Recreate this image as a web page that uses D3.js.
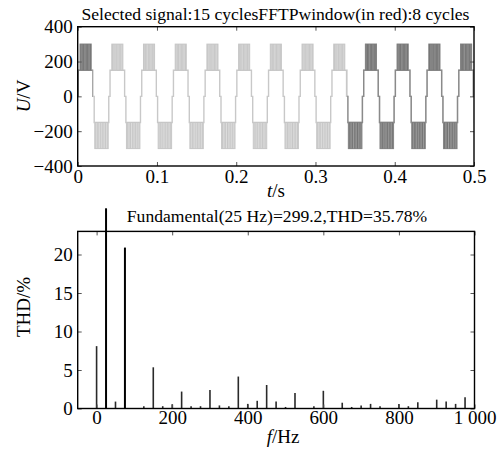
<!DOCTYPE html>
<html>
<head>
<meta charset="utf-8">
<script src="https://cdn.jsdelivr.net/npm/d3@7"></script>
<style>
  body { margin: 0; background: white; }
  svg { display: block; font-family: "Liberation Serif", "Times New Roman", serif; }
</style>
</head>
<body>
<div id="vis"></div>
<script>
// ---- waveform (25 Hz stepped PWM voltage) ----
const cycleStarts = [0, 0.04, 0.08, 0.12, 0.16, 0.2, 0.24, 0.28, 0.32, 0.36, 0.4, 0.44, 0.48];
// one cycle, times relative to cycle start; +-300 means a PWM block between 150 and 300
const stepTimes = [0, 0.0008, 0.003, 0.017, 0.0192, 0.0208, 0.0215, 0.0385, 0.0392, 0.04];
const stepLevels = [0, 150, 300, 150, 0, -150, -300, -150, 0];
// switching edges inside a PWM block (fraction of block width)
const pwmEdges = [0.07, 0.19, 0.3, 0.44, 0.56, 0.68, 0.8, 0.93];
// parts drawn darker (FFT window)
const darkSpans = [[0, 0.019], [0.34, 0.5]];
const timeTicks = [0, 0.1, 0.2, 0.3, 0.4, 0.5];
const voltTicks = [-400, -200, 0, 200, 400];

// ---- spectrum ----
const harmFreq = [0, 25, 50, 75, 125, 150, 175, 200, 225, 250, 275, 300, 325, 350, 375, 400, 425, 450, 475,
  500, 525, 575, 600, 650, 675, 700, 725, 750, 800, 825, 850, 900, 925, 950, 975];
const harmMag = [8.1, 100, 0.9, 20.9, 0.3, 5.35, 0.3, 0.55, 2.2, 0.3, 0.3, 2.4, 0.4, 0.3, 4.15, 0.6, 1.0, 3.05, 0.9,
  0.2, 2.0, 0.3, 2.3, 0.75, 0.2, 0.4, 0.6, 0.3, 0.6, 0.3, 0.8, 1.15, 0.9, 0.6, 1.45];
const freqTicks = [0, 200, 400, 600, 800, 1000];
const freqTickLabels = ['0', '200', '400', '600', '800', '1 000'];
const thdTicks = [0, 5, 10, 15, 20];

const serif = '"Liberation Serif", "Times New Roman", serif';
const W = 498, H = 450;
let svg = d3.select('#vis')
  .append('svg')
  .attr('width', W)
  .attr('height', H)
  .attr('viewBox', [0, 0, W, H].join(' '))
  .style('background-color', 'white');

const defs = svg.append('defs');

// ================= top: waveform =================
let x1 = d3.scaleLinear().domain([0, 0.5]).range([77.7, 474]);
let y1 = d3.scaleLinear().domain([-400, 400]).range([166, 26.7]);

defs.append('clipPath').attr('id', 'clipTop')
  .append('rect')
  .attr('x', x1(0)).attr('y', y1(400))
  .attr('width', x1(0.5) - x1(0)).attr('height', y1(-400) - y1(400));

let darkClip = defs.append('clipPath').attr('id', 'clipDark');
darkClip.selectAll('rect').data(darkSpans).join('rect')
  .attr('x', d => x1(d[0])).attr('y', y1(400))
  .attr('width', d => x1(d[1]) - x1(d[0]))
  .attr('height', y1(-400) - y1(400));

// build line points and PWM blocks
let pts = [], blocks = [];
cycleStarts.forEach(c => {
  stepLevels.forEach((v, i) => {
    let t0 = c + stepTimes[i], t1 = c + stepTimes[i + 1];
    if (Math.abs(v) === 300) {
      let s = Math.sign(v);
      pts.push([t0, s * 150]);
      blocks.push({ t0: t0, t1: t1, lo: s * 150, hi: s * 300 });
    } else {
      pts.push([t0, v]);
    }
  });
});
pts.push([0.52, 0]);

let line = d3.line()
  .x(d => x1(d[0]))
  .y(d => y1(d[1]))
  .curve(d3.curveStepAfter);

function drawWave(g, lineCol, fillCol, edgeCol) {
  g.append('path')
    .attr('d', line(pts))
    .attr('fill', 'none')
    .attr('stroke', lineCol)
    .attr('stroke-width', 1.4);
  let b = g.selectAll('g.blk').data(blocks).join('g').attr('class', 'blk');
  b.append('rect')
    .attr('x', d => x1(d.t0))
    .attr('y', d => Math.min(y1(d.lo), y1(d.hi)))
    .attr('width', d => x1(d.t1) - x1(d.t0))
    .attr('height', d => Math.abs(y1(d.lo) - y1(d.hi)))
    .attr('fill', fillCol)
    .attr('stroke', lineCol)
    .attr('stroke-width', 1);
  b.selectAll('line').data(d => pwmEdges.map(f => ({ t: d.t0 + f * (d.t1 - d.t0), lo: d.lo, hi: d.hi })))
    .join('line')
    .attr('x1', d => x1(d.t)).attr('x2', d => x1(d.t))
    .attr('y1', d => y1(d.lo)).attr('y2', d => y1(d.hi))
    .attr('stroke', edgeCol)
    .attr('stroke-width', 0.9);
}

let waveLight = svg.append('g').attr('clip-path', 'url(#clipTop)');
drawWave(waveLight, '#c8c8c8', '#e0e0e0', '#c4c4c4');
let waveDark = svg.append('g').attr('clip-path', 'url(#clipDark)');
drawWave(waveDark, '#8a8a8a', '#a4a4a4', '#6e6e6e');

// axes (inner ticks)
svg.append('g')
  .attr('transform', `translate(0,${y1(-400)})`)
  .call(d3.axisBottom(x1).tickValues(timeTicks).tickSize(-4).tickPadding(4)
    .tickFormat(d => d === 0 ? '0' : d3.format('.1f')(d)));
svg.append('g')
  .attr('transform', `translate(0,${y1(400)})`)
  .call(d3.axisTop(x1).tickValues(timeTicks).tickSize(-4).tickFormat(''));
svg.append('g')
  .attr('transform', `translate(${x1(0)},0)`)
  .call(d3.axisLeft(y1).tickValues(voltTicks).tickSize(-4).tickPadding(5).tickFormat(d3.format('d')));
svg.append('g')
  .attr('transform', `translate(${x1(0.5)},0)`)
  .call(d3.axisRight(y1).tickValues(voltTicks).tickSize(-4).tickFormat(''));

svg.append('rect')
  .attr('x', x1(0)).attr('y', y1(400))
  .attr('width', x1(0.5) - x1(0)).attr('height', y1(-400) - y1(400))
  .attr('fill', 'none').attr('stroke', '#000').attr('stroke-width', 1.4);

svg.append('text')
  .attr('x', 275.5).attr('y', 20)
  .attr('text-anchor', 'middle')
  .style('font-size', '17.6px')
  .text('Selected signal:15 cyclesFFTPwindow(in red):8 cycles');

let ul = svg.append('text')
  .attr('transform', 'translate(30,96) rotate(-90)')
  .attr('text-anchor', 'middle')
  .style('font-size', '19px');
ul.append('tspan').style('font-style', 'italic').text('U');
ul.append('tspan').text('/V');

let tl = svg.append('text')
  .attr('x', 276).attr('y', 197)
  .attr('text-anchor', 'middle')
  .style('font-size', '19px');
tl.append('tspan').style('font-style', 'italic').text('t');
tl.append('tspan').text('/s');

// ================= bottom: spectrum =================
let x2 = d3.scaleLinear().domain([-50, 1000]).range([77.7, 474.5]);
let y2 = d3.scaleLinear().domain([0, 23]).range([408.5, 231.4]);
const barMax = 26; // fundamental is drawn past the frame

svg.selectAll('line.bar')
  .data(harmFreq.map((f, i) => ({ f: f, v: harmMag[i] })))
  .join('line')
  .attr('class', 'bar')
  .attr('x1', d => x2(d.f)).attr('x2', d => x2(d.f))
  .attr('y1', y2(0))
  .attr('y2', d => y2(Math.min(d.v, barMax)))
  .attr('stroke', d => d.v > 10 ? '#000' : '#2a2a2a')
  .attr('stroke-width', d => d.v > 10 ? 2 : 1.6);

svg.append('g')
  .attr('transform', `translate(0,${y2(0)})`)
  .call(d3.axisBottom(x2).tickValues(freqTicks).tickSize(-4).tickPadding(2)
    .tickFormat((d, i) => freqTickLabels[i]));
svg.append('g')
  .attr('transform', `translate(0,${y2(23)})`)
  .call(d3.axisTop(x2).tickValues(freqTicks).tickSize(-4).tickFormat(''));
svg.append('g')
  .attr('transform', `translate(${x2(-50)},0)`)
  .call(d3.axisLeft(y2).tickValues(thdTicks).tickSize(-4).tickPadding(5));
svg.append('g')
  .attr('transform', `translate(${x2(1000)},0)`)
  .call(d3.axisRight(y2).tickValues(thdTicks).tickSize(-4).tickFormat(''));

svg.append('rect')
  .attr('x', x2(-50)).attr('y', y2(23))
  .attr('width', x2(1000) - x2(-50)).attr('height', y2(0) - y2(23))
  .attr('fill', 'none').attr('stroke', '#000').attr('stroke-width', 1.4);

svg.append('text')
  .attr('x', 277).attr('y', 222)
  .attr('text-anchor', 'middle')
  .style('font-size', '17.6px')
  .text('Fundamental(25 Hz)=299.2,THD=35.78%');

svg.append('text')
  .attr('transform', 'translate(30,307) rotate(-90)')
  .attr('text-anchor', 'middle')
  .style('font-size', '19px')
  .text('THD/%');

let fl = svg.append('text')
  .attr('x', 283).attr('y', 443)
  .attr('text-anchor', 'middle')
  .style('font-size', '19px');
fl.append('tspan').style('font-style', 'italic').text('f');
fl.append('tspan').text('/Hz');

// common styling for axes
svg.selectAll('.tick').select('text')
  .attr('font-family', serif)
  .attr('font-size', 19)
  .attr('fill', '#000');
svg.selectAll('g').filter(function() { return this.hasAttribute('font-family'); })
  .attr('font-family', serif)
  .attr('font-size', 19);
svg.selectAll('.domain').remove();
svg.selectAll('.tick line').attr('stroke', '#555');
</script>
</body>
</html>
